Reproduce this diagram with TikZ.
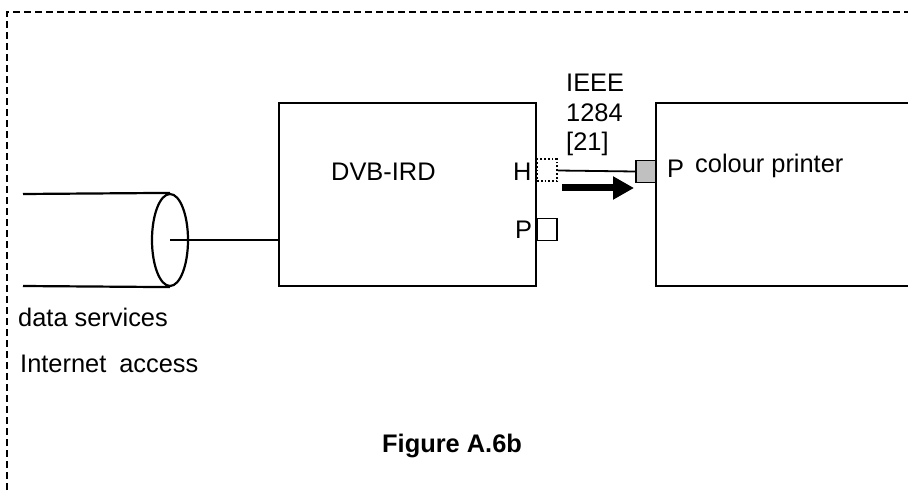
\documentclass[tikz,border=0pt]{standalone}
\usepackage{fontspec}
\setmainfont{Liberation Sans}
\usetikzlibrary{shapes.geometric,arrows.meta}
\begin{document}
\begin{tikzpicture}[x=1pt,y=-1pt,
  box/.style={draw, line width=1.8pt, inner sep=0, rectangle},
  port/.style={draw, line width=1.8pt, inner sep=0, minimum width=20pt, minimum height=22pt},
  lbl/.style={anchor=base west, inner sep=0, font=\fontsize{25.4}{30}\selectfont},
  wire/.style={line width=1.8pt}]
\useasboundingbox (0,0) rectangle (908,492);
\clip (0,0) rectangle (908,492);
% dashed frame
\draw[line width=1.3pt, dash pattern=on 7pt off 4pt] (7,600) -- (7,12) -- (960,12);
% boxes
\node[box, minimum width=257pt, minimum height=183pt] (ird) at (407.5,194.5) {};
\node[box, minimum width=300pt, minimum height=183pt] (prn) at (806,194.5) {};
% ports
\node[port, dotted, line width=2pt] (hport) at (547,170.5) {};
\node[port] (pport) at (547,229.5) {};
\node[port, fill={rgb,255:red,192;green,192;blue,192}] (gport) at (646,171.5) {};
% cylinder
\coordinate (ct) at (23,194);
\coordinate (cb) at (23,286);
\node[ellipse, draw, line width=2.2pt, minimum width=36pt, minimum height=92pt, inner sep=0] (cyl) at (170,240) {};
\draw[line width=2.2pt] (ct) -- (cyl.north);
\draw[line width=2.2pt] (cb) -- (cyl.south);
\draw[wire] (cyl.center) -- (cyl.center -| ird.west);
% link
\draw[wire] (hport.east) -- (gport.west);
\coordinate (as) at (562,188);
\coordinate (ae) at (634,188);
\draw[line width=7pt, -{Triangle[length=21pt,width=22pt]}] (as) -- (ae);
% labels
\node[lbl] (tird) at (331,181) {DVB-IRD};
\node[lbl] (th) at (513,181) {H};
\node[lbl] (tp1) at (515,238) {P};
\node[lbl] (tp2) at (667,178) {P};
\node[lbl] (tcp) at (695,172) {colour printer};
\node[lbl] (t1) at (566,92) {IEEE};
\node[lbl] (t2) at (566,122) {1284};
\node[lbl] (t3) at (566,151) {[21]};
\node[lbl] (tds) at (18,326) {data services};
\node[lbl] (tia) at (20,372) {Internet\hspace{13pt}access};
\node[lbl, font=\fontsize{25.4}{30}\selectfont\bfseries] (tfig) at (382,452) {Figure A.6b};
\end{tikzpicture}
\end{document}
